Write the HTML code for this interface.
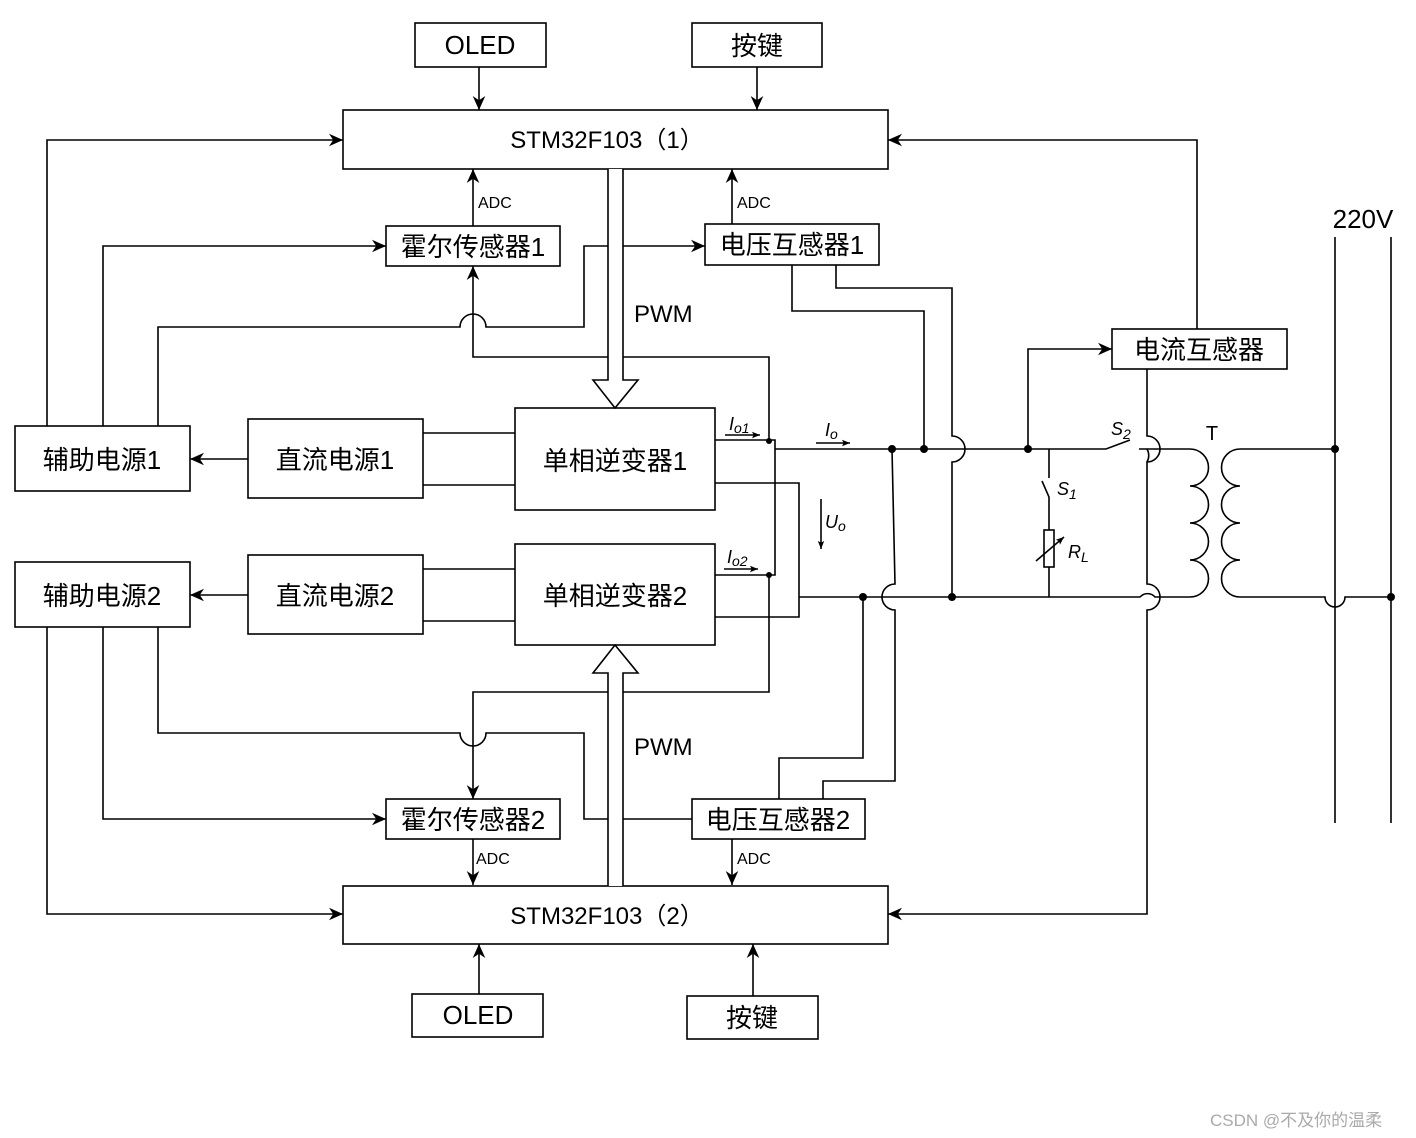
<!DOCTYPE html>
<html><head><meta charset="utf-8"><style>
html,body{margin:0;padding:0;background:#fff;}
svg{display:block;font-family:"Liberation Sans","Noto Sans CJK SC",sans-serif;}
</style></head><body>
<svg width="1416" height="1138" viewBox="0 0 1416 1138" xmlns="http://www.w3.org/2000/svg">
<defs>
<marker id="a" viewBox="0 0 10 10" refX="10" refY="5" markerWidth="14" markerHeight="14" markerUnits="userSpaceOnUse" orient="auto"><path d="M0,0.5 L10,5 L0,9.5 L3,5 z" fill="#000"/></marker>
<marker id="s" viewBox="0 0 10 10" refX="10" refY="5" markerWidth="8" markerHeight="8" markerUnits="userSpaceOnUse" orient="auto"><path d="M0,1 L10,5 L0,9 L2,5 z" fill="#000"/></marker>
</defs>
<g fill="none" stroke="#000" stroke-width="1.6">
<rect x="415" y="23" width="131" height="44"/>
<rect x="692" y="23" width="130" height="44"/>
<rect x="343" y="110" width="545" height="59"/>
<rect x="386" y="226" width="174" height="40"/>
<rect x="705" y="224" width="174" height="41"/>
<rect x="15" y="426" width="175" height="65"/>
<rect x="248" y="419" width="175" height="79"/>
<rect x="515" y="408" width="200" height="102"/>
<rect x="15" y="562" width="175" height="65"/>
<rect x="248" y="555" width="175" height="79"/>
<rect x="515" y="544" width="200" height="101"/>
<rect x="386" y="799" width="174" height="40"/>
<rect x="692" y="799" width="173" height="40"/>
<rect x="343" y="886" width="545" height="58"/>
<rect x="412" y="994" width="131" height="43"/>
<rect x="687" y="996" width="131" height="43"/>
<rect x="1112" y="329" width="175" height="40"/>
<path d="M479 67 V110" marker-end="url(#a)"/>
<path d="M757 67 V110" marker-end="url(#a)"/>
<path d="M473 226 V169" marker-end="url(#a)"/>
<path d="M732 224 V169" marker-end="url(#a)"/>
<path d="M47 426 V140 H343" marker-end="url(#a)"/>
<path d="M1197 329 V140 H888" marker-end="url(#a)"/>
<path d="M103 426 V246 H386" marker-end="url(#a)"/>
<path d="M158 426 V327 H460 A13 13 0 0 1 486 327 H584 V246 H608"/>
<path d="M623 246 H705" marker-end="url(#a)"/>
<path d="M769 440 V357 H623 M608 357 H473 V266" marker-end="url(#a)"/>
<path d="M608 169 V380 H593 L615 408 L638 380 H623 V169" fill="#fff"/>
<path d="M608 886 V673 H593 L615 645 L638 673 H623 V886" fill="#fff"/>
<path d="M248 459 H190" marker-end="url(#a)"/>
<path d="M248 595 H190" marker-end="url(#a)"/>
<path d="M423 433 H515 M423 485 H515 M423 569 H515 M423 621 H515"/>
<path d="M715 440 H775 V575 H715"/>
<path d="M715 483 H799 V617 H715"/>
<path d="M775 449 H1106 L1130 440"/>
<path d="M1134 449 H1147 A13 13 0 0 1 1147 462"/>
<path d="M799 597 H1140 A10 10 0 0 1 1155 597 H1190"/>
<path d="M792 265 V311 H924 V449"/>
<path d="M836 265 V288 H952 V436 A13 13 0 0 1 952 462 V597"/>
<path d="M779 799 V758 H863 V597"/>
<path d="M823 799 V781 H895 V610 A13 13 0 0 1 895 584 L892 449"/>
<path d="M769 575 V692 H623 M608 692 H473 V799" marker-end="url(#a)"/>
<path d="M47 627 V914 H343" marker-end="url(#a)"/>
<path d="M103 627 V819 H386" marker-end="url(#a)"/>
<path d="M158 627 V733 H460 A13 13 0 0 0 486 733 H584 V819 H608 M623 819 H692"/>
<path d="M473 839 V885" marker-end="url(#a)"/>
<path d="M732 839 V885" marker-end="url(#a)"/>
<path d="M479 994 V944" marker-end="url(#a)"/>
<path d="M753 996 V944" marker-end="url(#a)"/>
<path d="M1147 369 V436 A13 13 0 0 1 1147 462 V584 A13 13 0 0 1 1147 610 V914 H888" marker-end="url(#a)"/>
<path d="M1028 449 V349 H1112" marker-end="url(#a)"/>
<path d="M1049 449 V478 M1042 481 L1049 497 V530 M1049 567 V597"/>
<rect x="1044" y="530" width="10" height="37"/>
<path d="M1036 561 L1064 537" marker-end="url(#s)"/>
<path d="M1147 449 H1190 A18.5 18.5 0 0 1 1190 486 A18.5 18.5 0 0 1 1190 523 A18.5 18.5 0 0 1 1190 560 A18.5 18.5 0 0 1 1190 597"/>
<path d="M1335 449 H1240 A18.5 18.5 0 0 0 1240 486 A18.5 18.5 0 0 0 1240 523 A18.5 18.5 0 0 0 1240 560 A18.5 18.5 0 0 0 1240 597 H1325 A10 10 0 0 0 1345 597 H1391"/>
<path d="M1335 237 V823 M1391 237 V823"/>
<path d="M725 435 H760" marker-end="url(#s)"/>
<path d="M816 443 H850" marker-end="url(#s)"/>
<path d="M724 569 H758" marker-end="url(#s)"/>
<path d="M821 499 V549" marker-end="url(#s)"/>
</g>
<g fill="#fff"><rect x="1131" y="445" width="8" height="8"/></g>
<g fill="#000">
<circle cx="769" cy="441" r="3"/><circle cx="769" cy="575" r="3"/>
<circle cx="892" cy="449" r="4"/><circle cx="924" cy="449" r="4"/>
<circle cx="1028" cy="449" r="4"/><circle cx="863" cy="597" r="4"/>
<circle cx="952" cy="597" r="4"/><circle cx="1335" cy="449" r="4"/>
<circle cx="1391" cy="597" r="4"/>
</g>
<g fill="#000" font-size="26" text-anchor="middle">
<text x="480" y="54">OLED</text>
<text x="757" y="55">按键</text>
<text x="473" y="256">霍尔传感器1</text>
<text x="792" y="254">电压互感器1</text>
<text x="102" y="469">辅助电源1</text>
<text x="335" y="469">直流电源1</text>
<text x="615" y="470">单相逆变器1</text>
<text x="102" y="605">辅助电源2</text>
<text x="335" y="605">直流电源2</text>
<text x="615" y="605">单相逆变器2</text>
<text x="473" y="829">霍尔传感器2</text>
<text x="778" y="829">电压互感器2</text>
<text x="478" y="1024">OLED</text>
<text x="752" y="1027">按键</text>
<text x="1199" y="359">电流互感器</text>
<text x="1363" y="228">220V</text>
<text x="1212" y="440" font-size="20">T</text>
</g>
<g fill="#000" font-size="24" text-anchor="middle">
<text x="607" y="148">STM32F103（1）</text>
<text x="607" y="924">STM32F103（2）</text>
</g>
<g fill="#000" font-size="16">
<text x="478" y="208">ADC</text>
<text x="737" y="208">ADC</text>
<text x="476" y="864">ADC</text>
<text x="737" y="864">ADC</text>
</g>
<g fill="#000" font-size="24"><text x="634" y="322">PWM</text><text x="634" y="755">PWM</text></g>
<g fill="#000" font-size="18" font-style="italic">
<text x="729" y="430">I<tspan font-size="14" dy="3">o1</tspan></text>
<text x="825" y="436">I<tspan font-size="14" dy="3">o</tspan></text>
<text x="727" y="563">I<tspan font-size="14" dy="3">o2</tspan></text>
<text x="825" y="528">U<tspan font-size="14" dy="3">o</tspan></text>
<text x="1111" y="435">S<tspan font-size="14" dy="4">2</tspan></text>
<text x="1057" y="495">S<tspan font-size="14" dy="4">1</tspan></text>
<text x="1068" y="558">R<tspan font-size="14" dy="4">L</tspan></text>
</g>
<text x="1210" y="1126" font-size="17" fill="#aaa">CSDN @不及你的温柔</text>
</svg>
</body></html>
